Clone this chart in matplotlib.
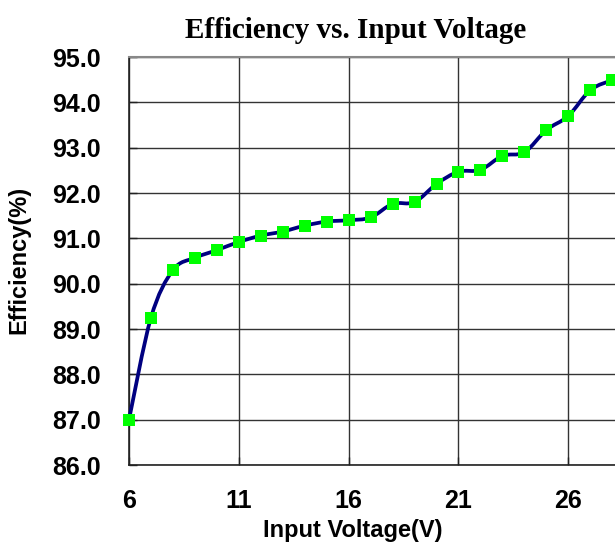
import matplotlib
matplotlib.use("Agg")
import matplotlib.pyplot as plt
from matplotlib.path import Path
from matplotlib.patches import PathPatch

voltage = [6, 7, 8, 9, 10, 11, 12, 13, 14, 15, 16, 17, 18, 19, 20, 21, 22, 23, 24, 25, 26, 27, 28]
efficiency = [87.0, 89.25, 90.30, 90.57, 90.74, 90.92, 91.06, 91.15, 91.28, 91.37, 91.40, 91.46,
              91.76, 91.80, 92.20, 92.47, 92.51, 92.82, 92.90, 93.39, 93.70, 94.27, 94.49]
x_ticks = [6, 11, 16, 21, 26]
y_ticks = [86.0, 87.0, 88.0, 89.0, 90.0, 91.0, 92.0, 93.0, 94.0, 95.0]

W, H = 615, 547
fig = plt.figure(figsize=(W / 100, H / 100), dpi=100)
left, right, top, bottom = 129, 616, 57, 465
ax = fig.add_axes([left / W, 1 - bottom / H, (right - left) / W, (bottom - top) / H])

# smoothed connecting line (Catmull-Rom style bezier through the data points)
n = len(voltage)
verts = [(voltage[0], efficiency[0])]
codes = [Path.MOVETO]
for i in range(n - 1):
    p0 = (voltage[max(i - 1, 0)], efficiency[max(i - 1, 0)])
    p1 = (voltage[i], efficiency[i])
    p2 = (voltage[i + 1], efficiency[i + 1])
    p3 = (voltage[min(i + 2, n - 1)], efficiency[min(i + 2, n - 1)])
    c1 = (p1[0] + (p2[0] - p0[0]) / 6, p1[1] + (p2[1] - p0[1]) / 6)
    c2 = (p2[0] - (p3[0] - p1[0]) / 6, p2[1] - (p3[1] - p1[1]) / 6)
    verts += [c1, c2, p2]
    codes += [Path.CURVE4] * 3
patch = PathPatch(Path(verts, codes), facecolor="none", edgecolor="#000080", lw=2.7,
                  zorder=3, clip_on=False, capstyle="round", joinstyle="round")
ax.add_patch(patch)

ax.plot(voltage, efficiency, linestyle="none", zorder=4,
        marker="s", markersize=8.8, markerfacecolor="#00FF00", markeredgecolor="#00FF00",
        markeredgewidth=0, clip_on=False)

ax.set_xlim(6, 28.17)
ax.set_ylim(86, 95)
ax.set_xticks(x_ticks)
ax.set_yticks(y_ticks)
ax.set_yticklabels([f"{v:.1f}" for v in y_ticks])
ax.grid(True, color="#333333", lw=1.0, zorder=0)
ax.set_axisbelow(True)

for lab in ax.get_xticklabels() + ax.get_yticklabels():
    lab.set_fontfamily(["Liberation Sans", "DejaVu Sans"])
    lab.set_fontweight("bold")
    lab.set_fontsize(18)
ax.tick_params(axis="both", direction="in", length=6, width=1, color="#222222")
ax.tick_params(axis="y", pad=20)
ax.tick_params(axis="x", pad=17)

for s in ["left", "bottom"]:
    ax.spines[s].set_color("#222222")
    ax.spines[s].set_linewidth(1.2)
ax.spines["top"].set_color("#888888")
ax.spines["top"].set_linewidth(1.5)
ax.spines["right"].set_visible(False)

fig.text(356 / W, 1 - 30 / H, "Efficiency vs. Input Voltage", ha="center", va="center",
         family=["Liberation Serif", "DejaVu Serif"], weight="bold", size=21)
fig.text(353 / W, 1 - 530 / H, "Input Voltage(V)", ha="center", va="center",
         family=["Liberation Sans", "DejaVu Sans"], weight="bold", size=17)
fig.text(19 / W, 1 - 260 / H, "Efficiency(%)", ha="center", va="center", rotation=90,
         family=["Liberation Sans", "DejaVu Sans"], weight="bold", size=17)

fig.savefig("out.png", dpi=100)
